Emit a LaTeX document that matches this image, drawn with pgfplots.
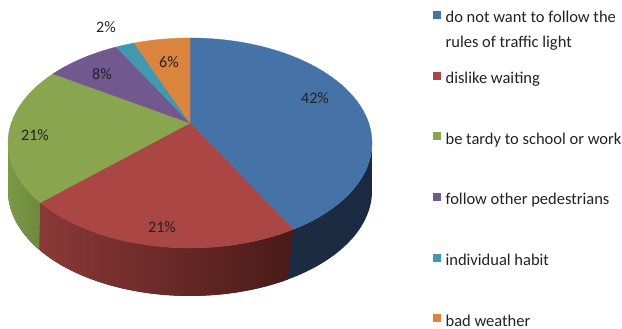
\documentclass[border=0pt]{standalone}
\usepackage{pgfplots}
\pgfplotsset{compat=1.18}
\usepackage{fontspec}
\setmainfont{Carlito}
\definecolor{cBlue}{HTML}{4572A7}
\definecolor{cRed}{HTML}{AA4643}
\definecolor{cGreen}{HTML}{89A54E}
\definecolor{cPurple}{HTML}{71588F}
\definecolor{cTeal}{HTML}{4198AF}
\definecolor{cOrange}{HTML}{DB843D}
\definecolor{sBlueL}{HTML}{1E3049}
\definecolor{sBlueR}{HTML}{1A2A40}
\definecolor{sRedL}{HTML}{923D3A}
\definecolor{sRedR}{HTML}{4A1A18}
\definecolor{sGreenL}{HTML}{7B9A48}
\definecolor{sGreenR}{HTML}{6C893C}
\definecolor{txt}{HTML}{222222}
% shares (percent), clockwise from 12 o'clock
\def\pA{42}\def\pB{21}\def\pC{21}\def\pD{8}\def\pE{2}\def\pF{6}
\pgfmathsetmacro{\aA}{90}
\pgfmathsetmacro{\aB}{\aA-3.6*\pA}
\pgfmathsetmacro{\aC}{\aB-3.6*\pB}
\pgfmathsetmacro{\aD}{\aC-3.6*\pC}
\pgfmathsetmacro{\aE}{\aD-3.6*\pD}
\pgfmathsetmacro{\aF}{\aE-3.6*\pE}
\pgfmathsetmacro{\aG}{\aF-3.6*\pF}
\pgfmathsetmacro{\eR}{-asin(0.19)}
\pgfmathsetmacro{\eL}{-180+asin(0.19)}
\begin{document}
\begin{tikzpicture}[lab/.style={font=\fontsize{16}{19}\selectfont, text=txt, inner sep=0pt}]
\begin{axis}[scale only axis, width=622pt, height=329pt,
  xmin=0, xmax=622, ymin=0, ymax=329, y dir=reverse,
  hide axis, clip=false,
  declare function={
    px(\t)=190+178.7*cos(\t)/(1+0.19*sin(\t));
    py(\t)=123-101.2*sin(\t)/(1+0.19*sin(\t));
    tt(\s,\u,\v)=(\s<=1)*(\u+(\v-\u)*\s)+(\s>1)*(\v-(\v-\u)*(\s-1));
  },
  legend cell align=left,
  legend style={at={(axis cs:433,5)}, anchor=north west, draw=none, fill=none,
    inner sep=0pt, row sep=41.7pt, column sep=5pt, text=txt,
    font=\fontsize{16.5}{25}\selectfont, nodes={inner sep=0pt}},
]
% sides (each layer laid over the previous one, so no seams show)
\addplot[forget plot, draw=none, left color=sBlueL, right color=sBlueR, domain=0:2, samples=161]
  ({px(tt(x,\aC,\eR))},{py(tt(x,\aC,\eR))+48*(x>1)}) -- cycle;
\addplot[forget plot, draw=none, left color=sRedL, right color=sRedR, domain=0:2, samples=121]
  ({px(tt(x,\eL,\aB))},{py(tt(x,\eL,\aB))+48*(x>1)}) -- cycle;
\addplot[forget plot, draw=none, left color=sGreenL, right color=sGreenR, domain=0:2, samples=121]
  ({px(tt(x,\eL,\aC))},{py(tt(x,\eL,\aC))+48*(x>1)}) -- cycle;
% top faces
\addplot[forget plot, fill=cBlue, draw=cBlue, line width=0.3pt, domain=\aB:\aA, samples=90]
  ({px(x)},{py(x)}) -- (axis cs:190,123) -- cycle;
\addplot[forget plot, fill=cRed, draw=cRed, line width=0.3pt, domain=\aC:\aB, samples=60]
  ({px(x)},{py(x)}) -- (axis cs:190,123) -- cycle;
\addplot[forget plot, fill=cGreen, draw=cGreen, line width=0.3pt, domain=\aD:\aC, samples=60]
  ({px(x)},{py(x)}) -- (axis cs:190,123) -- cycle;
\addplot[forget plot, fill=cPurple, draw=cPurple, line width=0.3pt, domain=\aE:\aD, samples=30]
  ({px(x)},{py(x)}) -- (axis cs:190,123) -- cycle;
\addplot[forget plot, fill=cTeal, draw=cTeal, line width=0.3pt, domain=\aF:\aE, samples=10]
  ({px(x)},{py(x)}) -- (axis cs:190,123) -- cycle;
\addplot[forget plot, fill=cOrange, draw=cOrange, line width=0.3pt, domain=\aG:\aF, samples=20]
  ({px(x)},{py(x)}) -- (axis cs:190,123) -- cycle;
% labels
\node[lab] at (axis cs:315,98) {42\%};
\node[lab] at (axis cs:162,227) {21\%};
\node[lab] at (axis cs:35,135) {21\%};
\node[lab] at (axis cs:102,74) {8\%};
\node[lab] at (axis cs:169,62) {6\%};
\node[lab] at (axis cs:106,27) {2\%};
% legend
\addlegendimage{legend image code/.code={\fill[cBlue] (0pt,-3.5pt) rectangle (7pt,3.5pt);}}
\addlegendentry{\rlap{\smash{\raisebox{-25pt}{rules of traffic light}}}do not want to follow the\strut}
\addlegendimage{legend image code/.code={\fill[cRed] (0pt,-3.5pt) rectangle (7pt,3.5pt);}}
\addlegendentry{dislike waiting\strut}
\addlegendimage{legend image code/.code={\fill[cGreen] (0pt,-3.5pt) rectangle (7pt,3.5pt);}}
\addlegendentry{be tardy to school or work\strut}
\addlegendimage{legend image code/.code={\fill[cPurple] (0pt,-3.5pt) rectangle (7pt,3.5pt);}}
\addlegendentry{follow other pedestrians\strut}
\addlegendimage{legend image code/.code={\fill[cTeal] (0pt,-3.5pt) rectangle (7pt,3.5pt);}}
\addlegendentry{individual habit\strut}
\addlegendimage{legend image code/.code={\fill[cOrange] (0pt,-3.5pt) rectangle (7pt,3.5pt);}}
\addlegendentry{bad weather\strut}
\end{axis}
\useasboundingbox (current axis.south west) rectangle (current axis.north east);
\end{tikzpicture}
\end{document}
